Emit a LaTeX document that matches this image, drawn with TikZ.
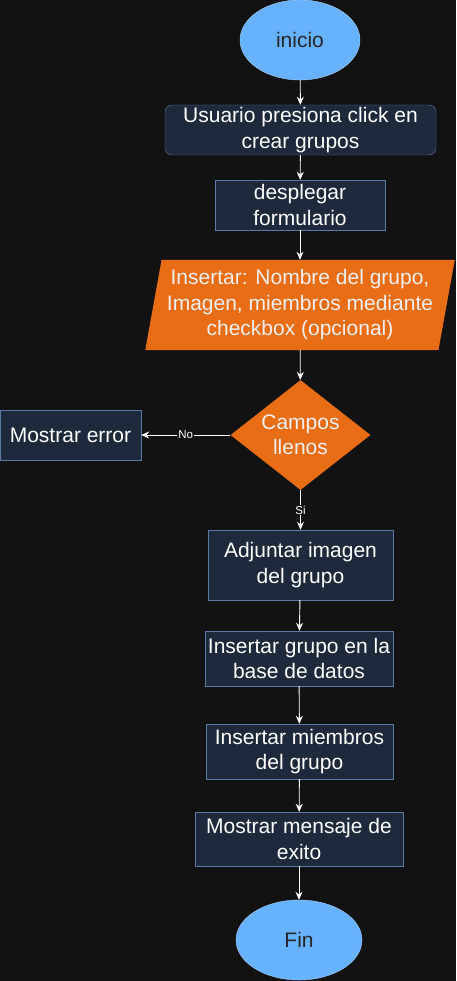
\documentclass[tikz,border=0pt]{standalone}
\usepackage{fontspec}
\setmainfont{Liberation Sans}
\usetikzlibrary{shapes.geometric,arrows.meta,positioning}

\definecolor{bgdark}{HTML}{121212}
\definecolor{boxfill}{HTML}{1E293B}
\definecolor{boxline}{HTML}{5B7BA6}
\definecolor{termfill}{HTML}{66B2FF}
\definecolor{termline}{HTML}{A9CFF5}
\definecolor{orangefill}{HTML}{E86D15}
\definecolor{lighttext}{HTML}{F0F0F0}

\begin{document}
\begin{tikzpicture}[x=1pt,y=-1pt,
  term/.style={ellipse,draw=termline,fill=termfill,text=black!85,inner sep=0pt,
    font=\fontsize{21}{25.5}\selectfont},
  proc/.style={rectangle,draw=boxline,fill=boxfill,text=white,inner sep=0pt,
    align=center,font=\fontsize{21}{25.5}\selectfont},
  io/.style={trapezium,trapezium left angle=77.5,trapezium right angle=102.5,
    trapezium stretches=true,fill=orangefill,text=lighttext,inner sep=0pt,
    align=center,font=\fontsize{21}{25.5}\selectfont},
  decision/.style={diamond,aspect=1.27,fill=orangefill,text=lighttext,inner sep=-4pt,
    align=center,font=\fontsize{21}{25.5}\selectfont},
  flow/.style={draw=white,line width=0.9pt,-{Stealth[length=8pt,width=7pt]}},
  lbl/.style={fill=bgdark,text=white,inner sep=1pt,font=\fontsize{11.5}{13}\selectfont}]
% Background
\fill[bgdark] (0,0) rectangle (456,981);
\useasboundingbox (0,0) rectangle (456,981);
% Nodes
\node[term,minimum width=120pt,minimum height=80pt] (inicio) at (300,40) {inicio};
\node[proc,rounded corners=7pt,minimum width=271pt,minimum height=50pt] (click) at (300.5,130)
  {Usuario presiona click en\\crear grupos};
\node[proc,minimum width=170pt,minimum height=50pt] (despl) at (300,205) {desplegar\\formulario};
\node[io,minimum width=310pt,minimum height=90pt] (datos) at (300,305)
  {Insertar: Nombre del grupo,\\Imagen, miembros mediante\\checkbox (opcional)};
\node[decision,minimum width=140pt,minimum height=110pt] (campos) at (300.5,435) {Campos\\llenos};
\node[proc,minimum width=141pt,minimum height=50pt] (error) at (70.5,435) {Mostrar error};
\node[proc,minimum width=185pt,minimum height=70pt] (adjuntar) at (300.5,565)
  {Adjuntar imagen\\del grupo};
\node[proc,minimum width=188pt,minimum height=55pt] (insgrupo) at (299,658.5)
  {Insertar grupo en la\\base de datos};
\node[proc,minimum width=187pt,minimum height=55pt] (insmiem) at (299.5,751.5)
  {Insertar miembros\\del grupo};
\node[proc,minimum width=208pt,minimum height=54pt] (exito) at (299,839)
  {Mostrar mensaje de\\exito};
\node[term,minimum width=126pt,minimum height=80pt] (fin) at (299,940) {Fin};
% Connectors
\draw[flow] (inicio) -- (click);
\draw[flow] (click) -- (despl);
\draw[flow] (despl) -- (datos);
\draw[flow] (datos) -- (campos);
\draw[flow] (campos) -- node[lbl] {No} (error);
\draw[flow] (campos) -- node[lbl] {Si} (adjuntar);
\draw[flow] (adjuntar) -- (insgrupo);
\draw[flow] (insgrupo) -- (insmiem);
\draw[flow] (insmiem) -- (exito);
\draw[flow] (exito) -- (fin);
\end{tikzpicture}
\end{document}
